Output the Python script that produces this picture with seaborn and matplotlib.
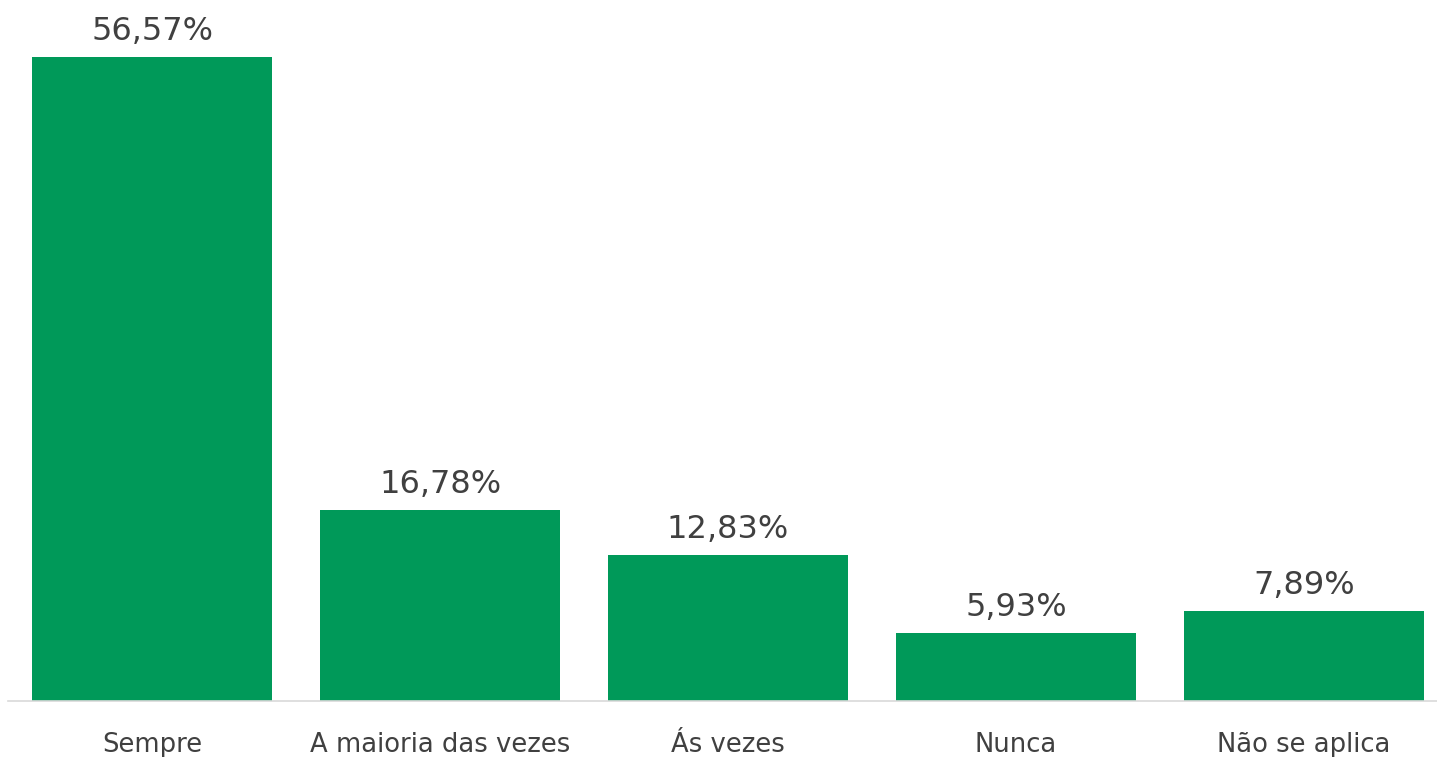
import matplotlib
matplotlib.use("Agg")
import matplotlib.pyplot as plt
import seaborn as sns

# Data
categories = ["Sempre", "A maioria das vezes", "Ás vezes", "Nunca", "Não se aplica"]
values = [56.57, 16.78, 12.83, 5.93, 7.89]
labels = ["56,57%", "16,78%", "12,83%", "5,93%", "7,89%"]

sns.set_style("white")
plt.rcParams['font.family'] = ['DejaVu Sans']

fig = plt.figure(figsize=(14.37, 7.57), dpi=100)
ax = fig.add_axes([8 / 1437, 56 / 757, 1440 / 1437, 683 / 757])

sns.barplot(x=categories, y=values, color="#009959", saturation=1, width=0.833,
            linewidth=0, ax=ax)

for i, (v, lab) in enumerate(zip(values, labels)):
    ax.text(i, v + 0.9, lab, ha="center", va="bottom", fontsize=23, color="#404040")

ax.set_xlim(-0.5, 4.5)
ax.set_ylim(0, 60)
ax.set_yticks([])
ax.set_ylabel("")
ax.tick_params(axis="x", length=0, labelsize=18.6, labelcolor="#404040", pad=22)
for s in ["top", "right", "left"]:
    ax.spines[s].set_visible(False)
ax.spines["bottom"].set_color("#d9d9d9")
ax.spines["bottom"].set_linewidth(1.2)

fig.savefig("out.png", dpi=100)
